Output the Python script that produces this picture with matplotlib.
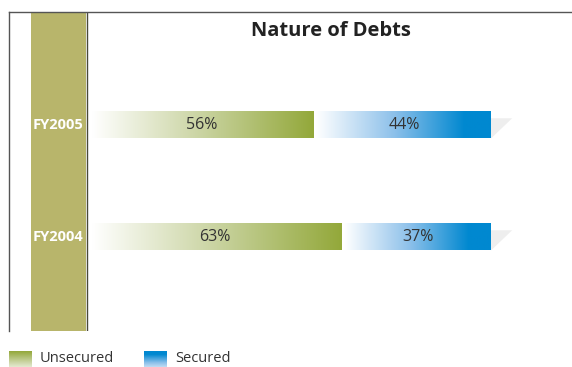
import matplotlib.pyplot as plt
import numpy as np
from matplotlib.colors import LinearSegmentedColormap
from matplotlib.patches import Polygon

plt.rcParams['font.family'] = ['Open Sans', 'DejaVu Sans']

years = ['FY2004', 'FY2005']
unsecured = [63, 56]
secured = [37, 44]

TEXT = '#333333'
OLIVE = '#b8b56b'
green_cm = LinearSegmentedColormap.from_list('g', ['#ffffff', '#c9d3a0', '#93a83a'])
blue_cm = LinearSegmentedColormap.from_list('b', [(0, '#ffffff'), (0.45, '#8cc0ea'), (0.85, '#0088d0'), (1, '#0088d0')])

W, H = 572, 367
fig = plt.figure(figsize=(W / 100, H / 100), dpi=100)

# main axes: left frame at x=9, top at y=12, bottom at y=331 (pixels)
ax = fig.add_axes([9 / W, 1 - 331 / H, (W - 9) / W, (331 - 12) / H])
px = 3.99  # pixels per percent
ax.set_xlim(-(92 - 9) / px, (W - 92) / px)
ax.set_ylim(-94 / 112, 1 + 113 / 112)
for s in ['right', 'bottom']:
    ax.spines[s].set_visible(False)
for s in ['left', 'top']:
    ax.spines[s].set_color('#555555')
    ax.spines[s].set_linewidth(1.0)
ax.set_xticks([])
ax.set_yticks([])

# olive label band
ax.axvspan(-(92 - 31) / px, -(92 - 86) / px, color=OLIVE, lw=0, zorder=1)
ax.axvline(-(92 - 86.5) / px, color='#4a4a3a', lw=1.0, zorder=2)

h = 0.24
grad = np.linspace(0, 1, 256).reshape(1, -1)
for i, (yr, u, s) in enumerate(zip(years, unsecured, secured)):
    ax.imshow(grad, cmap=green_cm, extent=(0, u - 0.55, i - h / 2, i + h / 2), aspect='auto', zorder=3)
    ax.imshow(grad, cmap=blue_cm, extent=(u + 0.2, u + s, i - h / 2, i + h / 2), aspect='auto', zorder=3)
    end = u + s
    shadow = Polygon([(end, i + h / 2 - 0.06), (end + 5.3, i + h / 2 - 0.06), (end, i - h / 2)],
                     closed=True, facecolor='#eeeeee', edgecolor='none', zorder=2)
    ax.add_patch(shadow)
    ax.text(u / 2 - 0.6, i, f'{u}%', ha='center', va='center', fontsize=11.5, color=TEXT, zorder=4)
    ax.text(u + 0.2 + s / 2, i, f'{s}%', ha='center', va='center', fontsize=11.5, color=TEXT, zorder=4)
    ax.text(-(92 - 58.5) / px, i, yr, ha='center', va='center', fontsize=10.5,
            color='white', fontweight='bold', zorder=4)

ax.set_xlim(-(92 - 9) / px, (W - 92) / px)
ax.set_ylim(-94 / 112, 1 + 113 / 112)

fig.text(331 / W, 1 - 31 / H, 'Nature of Debts', ha='center', va='center',
         fontsize=14.5, fontweight='bold', color='#222222')

# legend
vgrad = np.linspace(0, 1, 64).reshape(-1, 1)
leg = [('Unsecured', green_cm, 9, 40), ('Secured', blue_cm, 144, 175)]
for name, cm, x0, tx in leg:
    lax = fig.add_axes([x0 / W, 1 - 367 / H, 23 / W, 16 / H])
    lax.imshow(vgrad[::-1] * 0.75 + 0.25, cmap=cm, vmin=0, vmax=1, aspect='auto')
    lax.axis('off')
    fig.text(tx / W, 1 - 359 / H, name, ha='left', va='center', fontsize=10.5, color=TEXT)

fig.savefig('out.png', dpi=100)
